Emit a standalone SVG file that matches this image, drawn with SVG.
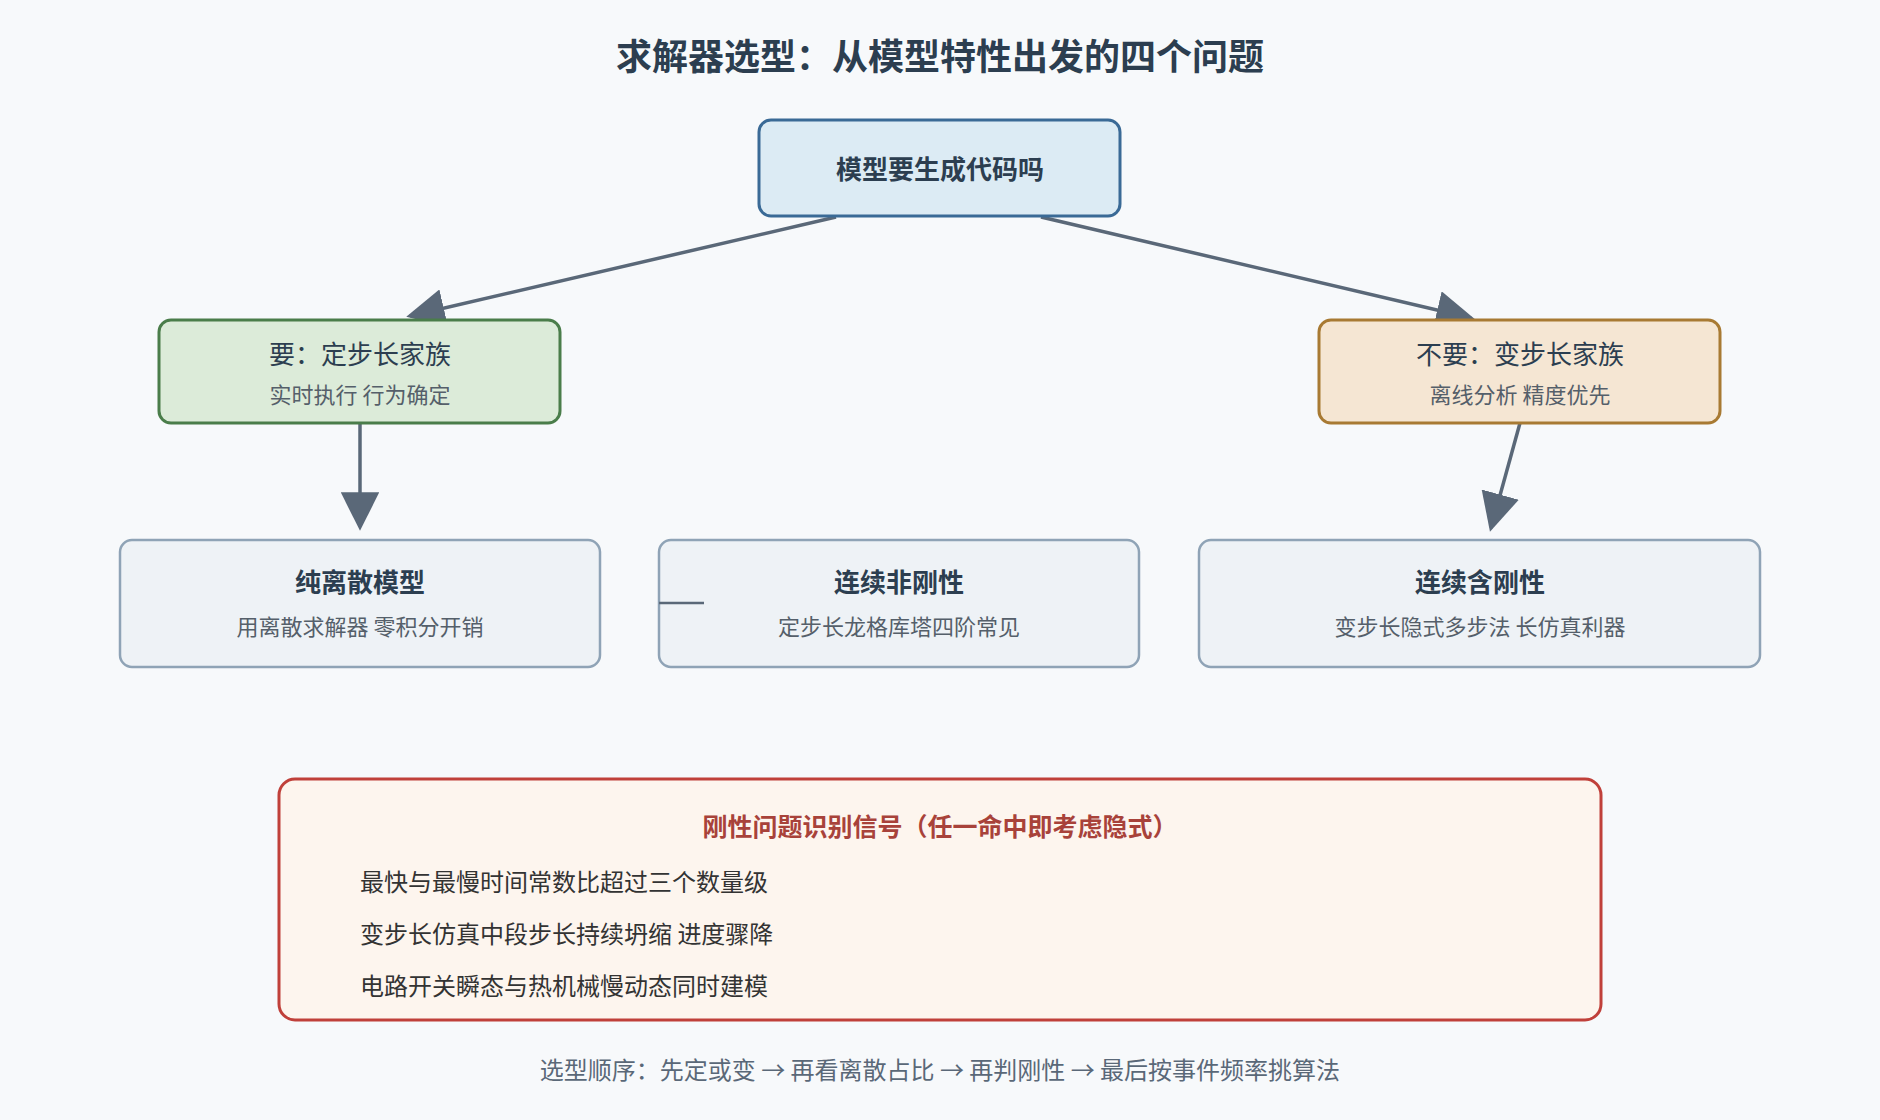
<svg xmlns="http://www.w3.org/2000/svg" width="1880" height="1120" viewBox="0 0 1880 1120">
<style>
text{font-family:"Noto Sans CJK SC","Noto Sans",sans-serif;text-anchor:middle}
.t{font-size:26px;fill:#2c3e50}
.b{font-weight:bold}
.s{font-size:22px;fill:#555f6a}
.li{font-size:24px;fill:#333;text-anchor:start}
.bn{fill:#eef2f6;stroke:#8fa3b6;stroke-width:2.5}
.ar{stroke:#5a6878;stroke-width:3.5;fill:none;marker-end:url(#a)}
</style>
<defs><marker id="a" viewBox="0 0 10 10" refX="9" refY="5" markerWidth="10" markerHeight="10" markerUnits="userSpaceOnUse" orient="auto"><path d="M0,0L10,5L0,10z" fill="#5a6878" transform="scale(1)"/></marker>
<marker id="b" viewBox="0 0 10 10" refX="9" refY="5" markerWidth="11" markerHeight="11" orient="auto"><path d="M0,0L10,5L0,10z" fill="#5a6878"/></marker></defs>
<rect width="1880" height="1120" fill="#f7f9fb"/>
<text x="940" y="70" font-size="36" font-weight="bold" fill="#2c3e50">求解器选型：从模型特性出发的四个问题</text>
<g id="connectors" stroke="#5a6878" stroke-width="3.5" fill="none">
<path d="M836,217L410,316" marker-end="url(#b)"/>
<path d="M1041,217L1471,318" marker-end="url(#b)"/>
<path d="M360,423L360,527" marker-end="url(#b)"/>
<path d="M1520,423L1491,528" marker-end="url(#b)"/>
</g>
<g id="n0"><rect x="759" y="120" width="361" height="96" rx="12" fill="#dcebf4" stroke="#3a6a96" stroke-width="3"/><text class="t b" x="940" y="179">模型要生成代码吗</text></g>
<g id="n1"><rect x="159" y="320" width="401" height="103" rx="12" fill="#dcebd9" stroke="#4a7d4a" stroke-width="3"/><text class="t" x="360" y="364">要：定步长家族</text><text class="s" x="360" y="403">实时执行 行为确定</text></g>
<g id="n2"><rect x="1319" y="320" width="401" height="103" rx="12" fill="#f5e6d3" stroke="#a87a33" stroke-width="3"/><text class="t" x="1520" y="364">不要：变步长家族</text><text class="s" x="1520" y="403">离线分析 精度优先</text></g>
<g id="n3"><rect class="bn" x="120" y="540" width="480" height="127" rx="12"/><text class="t b" x="360" y="592" font-size="25">纯离散模型</text><text class="s" x="360" y="635">用离散求解器 零积分开销</text></g>
<g id="n4"><rect class="bn" x="659" y="540" width="480" height="127" rx="12"/><path d="M659,603H704" stroke="#5a6878" stroke-width="2.5"/><text class="t b" x="899" y="592" font-size="25">连续非刚性</text><text class="s" x="899" y="635">定步长龙格库塔四阶常见</text></g>
<g id="n5"><rect class="bn" x="1199" y="540" width="561" height="127" rx="12"/><text class="t b" x="1480" y="592" font-size="25">连续含刚性</text><text class="s" x="1480" y="635">变步长隐式多步法 长仿真利器</text></g>
<g id="n6"><rect x="279" y="779" width="1322" height="241" rx="16" fill="#fdf5ee" stroke="#c0403a" stroke-width="3"/>
<text x="940" y="836" font-size="25" font-weight="bold" fill="#a8423a">刚性问题识别信号（任一命中即考虑隐式）</text>
<text class="li" x="360" y="891">最快与最慢时间常数比超过三个数量级</text>
<text class="li" x="360" y="943">变步长仿真中段步长持续坍缩 进度骤降</text>
<text class="li" x="360" y="995">电路开关瞬态与热机械慢动态同时建模</text></g>
<text x="940" y="1079" font-size="24" fill="#5a6878">选型顺序：先定或变 → 再看离散占比 → 再判刚性 → 最后按事件频率挑算法</text>
</svg>
